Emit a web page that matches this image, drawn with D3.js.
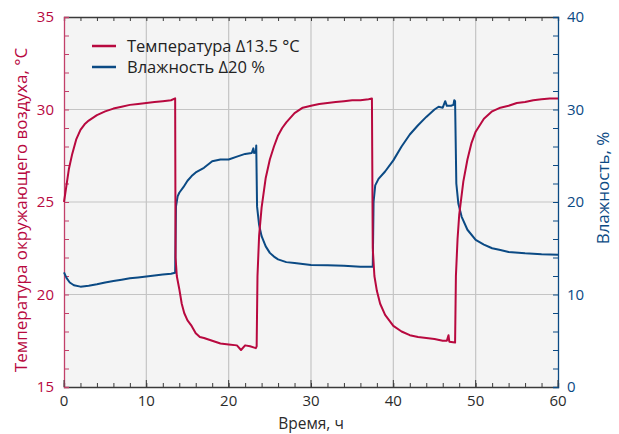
<!DOCTYPE html>
<html>
<head>
<meta charset="utf-8">
<script src="https://cdn.jsdelivr.net/npm/d3@7"></script>
<style>
  body { margin: 0; background: #fff; }
  text { font-family: "Open Sans", "Noto Sans", sans-serif; }
</style>
</head>
<body>
<div id="chart"></div>
<script>
// time, h
var tempTime = [0, 0.3, 0.6, 1, 1.5, 2, 2.5, 3, 4, 5, 6, 7, 8, 9, 10, 11, 12, 13, 13.5,
  13.55, 13.7, 14, 14.3, 14.6, 15, 15.5, 16, 16.5, 17, 18, 19, 20, 21, 21.5, 22, 22.6, 23.3, 23.4,
  23.5, 23.7, 24, 24.5, 25, 25.5, 26, 26.5, 27, 28, 29, 30, 31, 32, 33, 34, 35, 36, 37, 37.4,
  37.5, 37.7, 38, 38.4, 39, 39.5, 40, 41, 42, 43, 44, 45, 46, 46.5, 46.7, 46.8, 47.5,
  47.6, 47.8, 48, 48.5, 49, 49.5, 50, 51, 52, 53, 54, 55, 56, 57, 58, 59, 60];
var tempValues = [25.0, 25.9, 26.8, 27.6, 28.4, 28.9, 29.2, 29.4, 29.7, 29.9, 30.05, 30.15, 30.25, 30.3, 30.35, 30.4, 30.45, 30.5, 30.6,
  22, 21.0, 20.3, 19.5, 19.0, 18.6, 18.3, 17.9, 17.7, 17.65, 17.5, 17.35, 17.3, 17.25, 17.0, 17.25, 17.2, 17.1, 17.2,
  21, 23.2, 24.7, 26.3, 27.3, 28.0, 28.6, 29.0, 29.3, 29.8, 30.1, 30.2, 30.3, 30.35, 30.4, 30.45, 30.5, 30.5, 30.55, 30.6,
  22.5, 21.0, 20.2, 19.5, 18.9, 18.6, 18.3, 18.0, 17.8, 17.7, 17.65, 17.6, 17.5, 17.5, 17.8, 17.45, 17.4,
  21, 23, 24.3, 26.1, 27.3, 28.2, 28.8, 29.5, 29.9, 30.1, 30.2, 30.35, 30.4, 30.5, 30.55, 30.6, 30.6];

var humTime = [0, 0.3, 0.7, 1.2, 2, 3, 4, 5, 6, 7, 8, 9, 10, 11, 12, 13, 13.5,
  13.6, 13.8, 14, 14.5, 15, 15.5, 16, 17, 18, 19, 20, 21, 22, 22.8, 23.0, 23.1, 23.3, 23.35,
  23.45, 23.7, 24, 24.5, 25, 25.5, 26, 27, 28, 29, 30, 32, 34, 36, 37.5,
  37.6, 37.8, 38.2, 39, 40, 41, 42, 43, 44, 45, 45.5, 46, 46.3, 46.5, 47, 47.3, 47.4, 47.5,
  47.65, 47.9, 48.3, 49, 50, 51, 52, 53, 54, 56, 58, 60];
var humValues = [12.4, 11.8, 11.3, 11.0, 10.85, 10.95, 11.1, 11.3, 11.45, 11.6, 11.75, 11.85, 11.95, 12.05, 12.15, 12.25, 12.35,
  19.5, 20.6, 21.0, 21.6, 22.3, 22.8, 23.2, 23.7, 24.4, 24.6, 24.6, 24.9, 25.2, 25.3, 25.8, 25.3, 25.4, 26.1,
  19.5, 17.5, 16.3, 15.2, 14.5, 14.1, 13.8, 13.5, 13.4, 13.3, 13.2, 13.15, 13.1, 13.0, 13.0,
  20.0, 21.8, 22.5, 23.3, 24.5, 26.0, 27.3, 28.3, 29.2, 30.0, 30.3, 30.2, 30.9, 30.4, 30.4, 30.5, 31.0, 30.9,
  22, 19.8, 18.4, 17.0, 15.9, 15.4, 15.0, 14.8, 14.6, 14.45, 14.35, 14.3];

var xTicks = [0, 10, 20, 30, 40, 50, 60];
var tempTicks = [15, 20, 25, 30, 35];
var humTicks = [0, 10, 20, 30, 40];
var legendLabels = ["Температура Δ13.5 °C", "Влажность Δ20 %"];

var width = 619, height = 434;
var margin = { top: 17, right: 61, bottom: 47, left: 64 };
var red = "#b8093f", blue = "#0b4a84", grid = "#c4c4c4", axisGray = "#3a3a3a";

var svg = d3.select("#chart").append("svg").attr("width", width).attr("height", height);

var x = d3.scaleLinear().domain([0, 60]).range([margin.left, width - margin.right]);
var yT = d3.scaleLinear().domain([15, 35]).range([height - margin.bottom, margin.top]);
var yH = d3.scaleLinear().domain([0, 40]).range([height - margin.bottom, margin.top]);

// plot background
svg.append("rect")
  .attr("x", x(0)).attr("y", yT(35))
  .attr("width", x(60) - x(0)).attr("height", yT(15) - yT(35))
  .attr("fill", "#f4f4f4");

// grid
svg.append("g").selectAll("line")
  .data(xTicks.slice(1, -1))
  .enter().append("line")
  .attr("x1", d => x(d)).attr("x2", d => x(d))
  .attr("y1", yT(35)).attr("y2", yT(15))
  .attr("stroke", grid).attr("stroke-width", 1.2);
svg.append("g").selectAll("line")
  .data(tempTicks.slice(1, -1))
  .enter().append("line")
  .attr("x1", x(0)).attr("x2", x(60))
  .attr("y1", d => yT(d)).attr("y2", d => yT(d))
  .attr("stroke", grid).attr("stroke-width", 1.2);

// axes
var xAxisB = d3.axisBottom(x).tickValues(d3.range(0, 61, 2)).tickSize(-4).tickFormat("");
var xAxisT = d3.axisTop(x).tickValues(d3.range(0, 61, 2)).tickSize(-4).tickFormat("");
var yAxisL = d3.axisLeft(yT).tickValues(d3.range(15, 35.1, 1)).tickSize(-5).tickFormat("");
var yAxisR = d3.axisRight(yH).tickValues(d3.range(0, 40.1, 2)).tickSize(-5).tickFormat("");

function styleAxis(g, color) {
  g.select(".domain").attr("stroke", color).attr("stroke-width", 1.3);
  g.selectAll(".tick line").attr("stroke", color).attr("stroke-width", 1);
}

svg.append("g").attr("transform", "translate(0," + yT(15) + ")").call(xAxisB).call(styleAxis, axisGray);
svg.append("g").attr("transform", "translate(0," + yT(35) + ")").call(xAxisT).call(styleAxis, axisGray);
svg.append("g").attr("transform", "translate(" + x(0) + ",0)").call(yAxisL).call(styleAxis, "#c2406a");
svg.append("g").attr("transform", "translate(" + x(60) + ",0)").call(yAxisR).call(styleAxis, blue);

// major bottom ticks a bit longer
svg.append("g").selectAll("line")
  .data(xTicks)
  .enter().append("line")
  .attr("x1", d => x(d)).attr("x2", d => x(d))
  .attr("y1", yT(15)).attr("y2", yT(15) - 7)
  .attr("stroke", axisGray);

// tick labels
svg.append("g").selectAll("text")
  .data(xTicks)
  .enter().append("text")
  .attr("x", d => x(d)).attr("y", yT(15) + 19)
  .attr("text-anchor", "middle").attr("font-size", 15).attr("fill", "#2b2b2b")
  .text(d => d);
svg.append("g").selectAll("text")
  .data(tempTicks)
  .enter().append("text")
  .attr("x", x(0) - 10).attr("y", d => yT(d) + 5)
  .attr("text-anchor", "end").attr("font-size", 15).attr("fill", red)
  .text(d => d);
svg.append("g").selectAll("text")
  .data(humTicks)
  .enter().append("text")
  .attr("x", x(60) + 9).attr("y", d => yH(d) + 5)
  .attr("text-anchor", "start").attr("font-size", 15).attr("fill", blue)
  .text(d => d);

// axis titles
svg.append("text")
  .attr("transform", "translate(27," + (yT(25) + 8) + ") rotate(-90)")
  .attr("text-anchor", "middle").attr("font-size", 17).attr("fill", red)
  .text("Температура окружающего воздуха, °С");
svg.append("text")
  .attr("transform", "translate(609," + (yH(20) - 14) + ") rotate(-90)")
  .attr("text-anchor", "middle").attr("font-size", 17).attr("fill", blue)
  .text("Влажность, %");
svg.append("text")
  .attr("x", (x(0) + x(60)) / 2).attr("y", 429)
  .attr("text-anchor", "middle").attr("font-size", 15.5).attr("fill", "#2b2b2b")
  .text("Время, ч");

// lines
var tempData = tempTime.map((t, i) => [t, tempValues[i]]);
var humData = humTime.map((t, i) => [t, humValues[i]]);

svg.append("path")
  .datum(humData)
  .attr("fill", "none").attr("stroke", blue).attr("stroke-width", 2)
  .attr("stroke-linejoin", "round")
  .attr("d", d3.line().x(d => x(d[0])).y(d => yH(d[1])));
svg.append("path")
  .datum(tempData)
  .attr("fill", "none").attr("stroke", red).attr("stroke-width", 2)
  .attr("stroke-linejoin", "round")
  .attr("d", d3.line().x(d => x(d[0])).y(d => yT(d[1])));

// legend
var legend = svg.append("g").selectAll("g")
  .data(legendLabels)
  .enter().append("g")
  .attr("transform", (d, i) => "translate(92," + (46 + i * 21) + ")");
legend.append("line")
  .attr("x1", 0).attr("x2", 24)
  .attr("stroke", (d, i) => i === 0 ? red : blue).attr("stroke-width", 2.5);
legend.append("text")
  .attr("x", 35).attr("y", 5.5)
  .attr("font-size", 16.5).attr("fill", "#222")
  .text(d => d);
</script>
</body>
</html>
